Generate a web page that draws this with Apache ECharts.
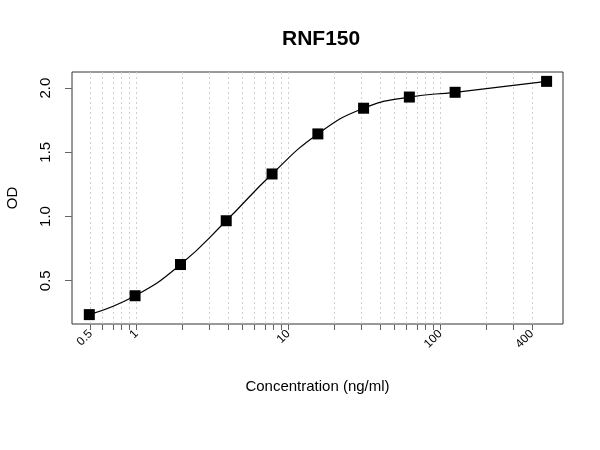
<!DOCTYPE html>
<html>
<head>
  <meta charset="UTF-8" />
  <title>RNF150</title>
  <style>
    * { margin: 0; padding: 0; }
    html, body { width: 100%; height: 100%; background: #fff; }
    #chart { width: 600px; height: 450px; }
  </style>
</head>
<body>
  <div id="chart"></div>
  <script src="https://cdn.jsdelivr.net/npm/echarts@6/dist/echarts.min.js"></script>
  <script>
    // standard curve points (ng/ml, OD)
    var conc = [0.49, 0.98, 1.95, 3.9, 7.81, 15.63, 31.25, 62.5, 125, 500];
    var od = [0.236, 0.383, 0.626, 0.967, 1.331, 1.643, 1.843, 1.930, 1.967, 2.052];

    // ticks / grid lines on the log axis
    var xGrid = [0.5, 0.6, 0.7, 0.8, 0.9, 1, 2, 3, 4, 5, 6, 7, 8, 9, 10,
                 20, 30, 40, 50, 60, 70, 80, 90, 100, 200, 300, 400];
    var xLabels = [0.5, 1, 10, 100, 400];
    var yLabels = [0.5, 1.0, 1.5, 2.0];

    var points = conc.map(function (c, i) { return [c, od[i]]; });
    var font = 'Liberation Sans, Arial, sans-serif';

    var myChart = echarts.init(document.getElementById('chart'));
    var option = {
      animation: false,
      backgroundColor: '#fff',
      title: {
        text: 'RNF150',
        left: 277,
        top: 24,
        textStyle: { fontFamily: font, fontSize: 21, fontWeight: 'bold', color: '#000' }
      },
      grid: {
        left: 72,
        right: 37,
        top: 72,
        bottom: 126,
        outerBoundsMode: 'none',
        containLabel: false,
        show: true,
        borderColor: '#333',
        borderWidth: 1
      },
      xAxis: {
        type: 'log',
        logBase: 10,
        min: 0.377,
        max: 641,
        name: 'Concentration (ng/ml)',
        nameLocation: 'middle',
        nameGap: 55,
        nameTextStyle: { fontFamily: font, fontSize: 15, color: '#000' },
        axisLine: { show: false },
        axisTick: {
          show: true,
          length: 6,
          customValues: xGrid,
          lineStyle: { color: '#666' }
        },
        axisLabel: {
          customValues: xLabels,
          rotate: 45,
          margin: 8,
          fontFamily: font,
          fontSize: 12,
          color: '#000',
          formatter: function (v) { return String(v); }
        },
        splitLine: {
          show: true,
          lineStyle: { color: '#d0d0d0', type: [2, 3], width: 1 }
        }
      },
      yAxis: {
        type: 'value',
        min: 0.163,
        max: 2.125,
        name: 'OD',
        nameLocation: 'middle',
        nameGap: 52,
        nameRotate: 90,
        nameTextStyle: { fontFamily: font, fontSize: 15, color: '#000' },
        axisLine: { show: false },
        axisTick: {
          show: true,
          length: 7,
          customValues: yLabels,
          lineStyle: { color: '#666' }
        },
        axisLabel: {
          customValues: yLabels,
          rotate: 90,
          margin: 19,
          fontFamily: font,
          fontSize: 15,
          color: '#000',
          formatter: function (v) { return v.toFixed(1); }
        },
        splitLine: { show: false }
      },
      series: [
        {
          type: 'line',
          data: points,
          smooth: 0.5,
          symbol: 'rect',
          symbolSize: 11,
          itemStyle: { color: '#000' },
          lineStyle: { color: '#000', width: 1.2 }
        }
      ]
    };
    myChart.setOption(option);
  </script>
</body>
</html>
